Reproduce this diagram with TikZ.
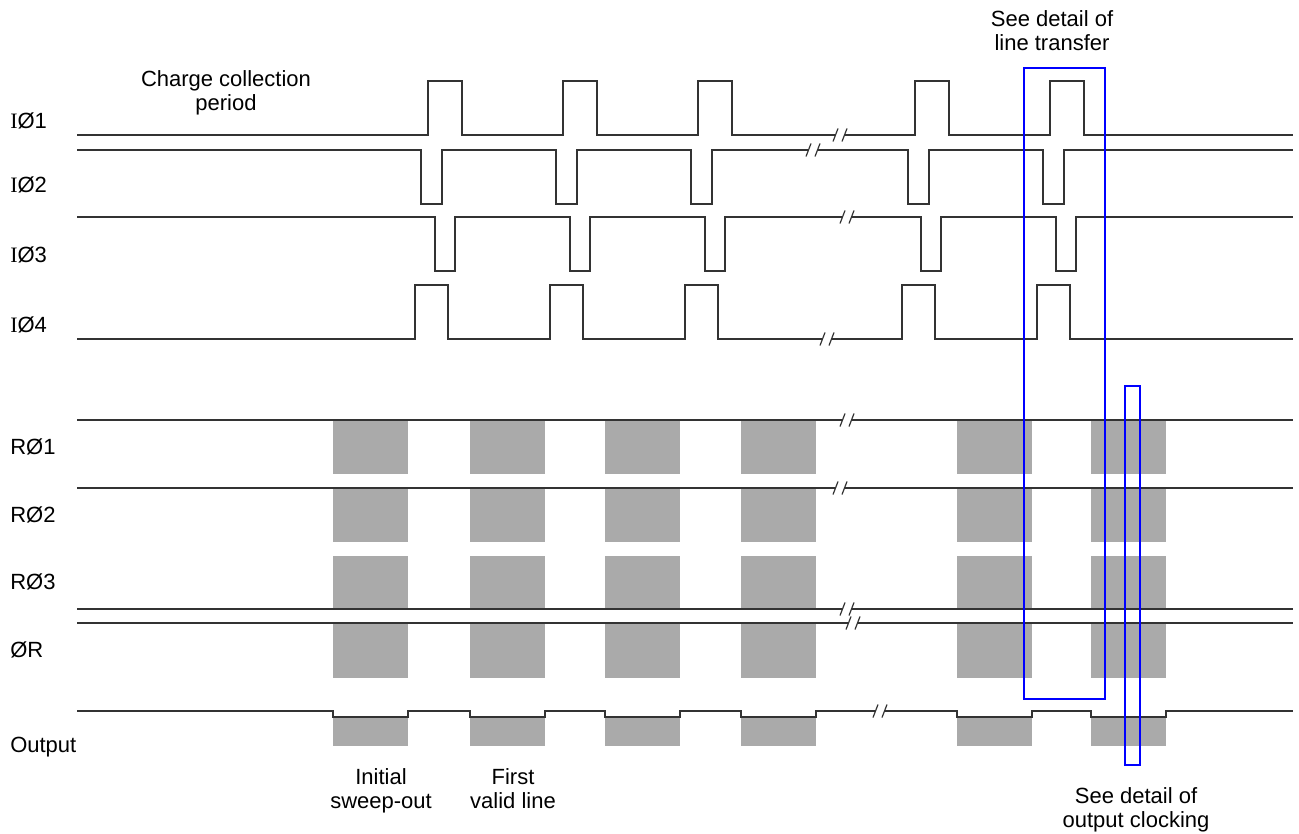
\documentclass[tikz,border=0pt]{standalone}
\usepackage{fontspec}
\setmainfont{Liberation Sans}
\newfontfamily\serifI{Liberation Serif}
\definecolor{boxgray}{HTML}{AAAAAA}
\definecolor{sigcol}{HTML}{333333}
\definecolor{hlblue}{HTML}{0000FF}
\newcommand\sigbreak[2]{%
  \fill[white] (#1-4,#2-3) rectangle (#1+4,#2+3);
  \draw[sig] (#1-7,#2+6.5) -- (#1-2,#2-6.5);
  \draw[sig] (#1+2,#2+6.5) -- (#1+7,#2-6.5);
}
\begin{document}
\begin{tikzpicture}[x=0.75pt,y=-0.75pt,
  sig/.style={line width=0.9pt, draw=sigcol},
  lab/.style={inner sep=0pt, font=\fontsize{16.5}{18}\selectfont, text=black},
  note/.style={inner sep=0pt, align=center, anchor=north, font=\fontsize{16.5}{18}\selectfont, text=black},
  shade/.style={fill=boxgray},
  hl/.style={draw=hlblue, line width=1.5pt}]
\useasboundingbox (0,0) rectangle (1299,834);
\fill[white] (0,0) rectangle (1299,834);

% gray shaded blocks
\foreach \b in {333,470,605,741,957,1091} {
  \fill[shade] (\b,420) rectangle (\b+75,474);
  \fill[shade] (\b,488) rectangle (\b+75,542);
  \fill[shade] (\b,556) rectangle (\b+75,609);
  \fill[shade] (\b,623) rectangle (\b+75,678);
  \fill[shade] (\b,717) rectangle (\b+75,746);
}

% image-area clocks
\draw[sig] (77,135) \foreach \p in {428,563,698,915,1050} { -- (\p,135) -- (\p,81) -- (\p+34,81) -- (\p+34,135) } -- (1293,135);
\draw[sig] (77,150) \foreach \p in {421,556,691,908,1043} { -- (\p,150) -- (\p,204) -- (\p+21,204) -- (\p+21,150) } -- (1293,150);
\draw[sig] (77,217) \foreach \p in {435,570,705,921,1056} { -- (\p,217) -- (\p,271) -- (\p+20,271) -- (\p+20,217) } -- (1293,217);
\draw[sig] (77,339) \foreach \p in {415,550,685,902,1037} { -- (\p,339) -- (\p,285) -- (\p+33,285) -- (\p+33,339) } -- (1293,339);

% readout clocks
\draw[sig] (77,420) -- (1293,420);
\draw[sig] (77,488) -- (1293,488);
\draw[sig] (77,609) -- (1293,609);
\draw[sig] (77,623) -- (1293,623);
\draw[sig] (77,711) \foreach \b in {333,470,605,741,957,1091} { -- (\b,711) -- (\b,717) -- (\b+75,717) -- (\b+75,711) } -- (1293,711);

% breaks
\sigbreak{840}{135}
\sigbreak{813}{150}
\sigbreak{847}{217}
\sigbreak{827}{339}
\sigbreak{847}{420}
\sigbreak{840}{488}
\sigbreak{847}{609}
\sigbreak{853}{623}
\sigbreak{880}{711}

% detail frames
\draw[hl] (1024,68) rectangle (1105,699);
\draw[hl] (1125,386) rectangle (1140,765);

% labels
\node[lab, anchor=base west] (i1) at (10,129) {{\serifI I}Ø1};
\node[lab, anchor=base west] (i2) at (10,193) {{\serifI I}Ø2};
\node[lab, anchor=base west] (i3) at (10,263) {{\serifI I}Ø3};
\node[lab, anchor=base west] (i4) at (10,332) {{\serifI I}Ø4};
\node[lab, anchor=base west] (r1) at (10,454) {RØ1};
\node[lab, anchor=base west] (r2) at (10,522) {RØ2};
\node[lab, anchor=base west] (r3) at (10,589) {RØ3};
\node[lab, anchor=base west] (rr) at (10,657) {ØR};
\node[lab, anchor=base west] (out) at (10,752) {Output};

\node[note] (ccp) at (226,70) {Charge collection\\period};
\node[note] (dlt) at (1052,10) {See detail of\\line transfer};
\node[note] (isw) at (381,768) {Initial\\sweep-out};
\node[note] (fvl) at (513,768) {First\\valid line};
\node[note] (doc) at (1136,787) {See detail of\\output clocking};
\end{tikzpicture}
\end{document}
